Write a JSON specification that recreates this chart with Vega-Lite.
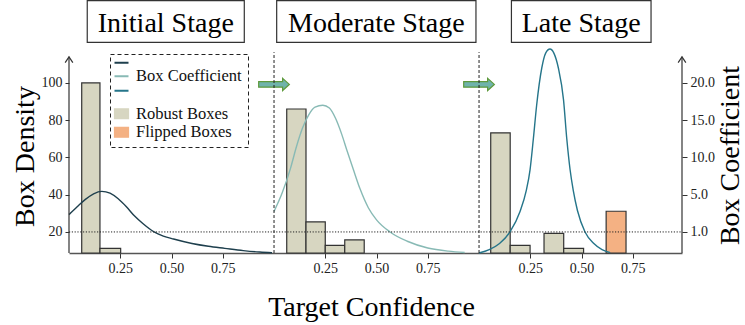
{
  "$schema": "https://vega.github.io/schema/vega-lite/v6.json",
  "width": 613,
  "height": 253,
  "autosize": {"type": "none"},
  "padding": {"left": 69, "top": 0, "right": 63, "bottom": 72},
  "background": "white",
  "config": {"view": {"stroke": null}, "font": "Liberation Serif"},
  "resolve": {"axis": {"x": "independent", "y": "independent"}},
  "datasets": {
    "bars": [
      {"x": 0.062, "x2": 0.151, "h": 100, "series": "Robust Boxes"},
      {"x": 0.151, "x2": 0.252, "h": 11.2, "series": "Robust Boxes"},
      {"x": 1.062, "x2": 1.156, "h": 86, "series": "Robust Boxes"},
      {"x": 1.156, "x2": 1.25, "h": 25.4, "series": "Robust Boxes"},
      {"x": 1.25, "x2": 1.345, "h": 12.8, "series": "Robust Boxes"},
      {"x": 1.345, "x2": 1.44, "h": 15.7, "series": "Robust Boxes"},
      {"x": 2.057, "x2": 2.152, "h": 73.2, "series": "Robust Boxes"},
      {"x": 2.152, "x2": 2.249, "h": 12.8, "series": "Robust Boxes"},
      {"x": 2.317, "x2": 2.413, "h": 19.2, "series": "Robust Boxes"},
      {"x": 2.413, "x2": 2.51, "h": 11.2, "series": "Robust Boxes"},
      {"x": 2.62, "x2": 2.717, "h": 31.1, "series": "Flipped Boxes"}
    ],
    "curves": [
      {"series": "Initial", "x": 0, "y": 29.3},
      {"series": "Initial", "x": 0.04, "y": 33.5},
      {"series": "Initial", "x": 0.08, "y": 37.5},
      {"series": "Initial", "x": 0.12, "y": 40.5},
      {"series": "Initial", "x": 0.16, "y": 41.8},
      {"series": "Initial", "x": 0.2, "y": 40.8},
      {"series": "Initial", "x": 0.24, "y": 37.8},
      {"series": "Initial", "x": 0.28, "y": 33.5},
      {"series": "Initial", "x": 0.32, "y": 28.5},
      {"series": "Initial", "x": 0.36, "y": 24.5},
      {"series": "Initial", "x": 0.415, "y": 20},
      {"series": "Initial", "x": 0.46, "y": 17.8},
      {"series": "Initial", "x": 0.51, "y": 16.2},
      {"series": "Initial", "x": 0.6, "y": 13.8},
      {"series": "Initial", "x": 0.68, "y": 12.3},
      {"series": "Initial", "x": 0.76, "y": 11.2},
      {"series": "Initial", "x": 0.85, "y": 10},
      {"series": "Initial", "x": 0.93, "y": 9.2},
      {"series": "Initial", "x": 0.99, "y": 8.8},
      {"series": "Moderate", "x": 1.0, "y": 31},
      {"series": "Moderate", "x": 1.04, "y": 41},
      {"series": "Moderate", "x": 1.08, "y": 54},
      {"series": "Moderate", "x": 1.11, "y": 66},
      {"series": "Moderate", "x": 1.14, "y": 76},
      {"series": "Moderate", "x": 1.17, "y": 83},
      {"series": "Moderate", "x": 1.2, "y": 87},
      {"series": "Moderate", "x": 1.238, "y": 88},
      {"series": "Moderate", "x": 1.27, "y": 86.5},
      {"series": "Moderate", "x": 1.3, "y": 81},
      {"series": "Moderate", "x": 1.33, "y": 72.5},
      {"series": "Moderate", "x": 1.355, "y": 64},
      {"series": "Moderate", "x": 1.387, "y": 53.5},
      {"series": "Moderate", "x": 1.42, "y": 43},
      {"series": "Moderate", "x": 1.46, "y": 33},
      {"series": "Moderate", "x": 1.5, "y": 26.5},
      {"series": "Moderate", "x": 1.566, "y": 20},
      {"series": "Moderate", "x": 1.65, "y": 15},
      {"series": "Moderate", "x": 1.75, "y": 11.4},
      {"series": "Moderate", "x": 1.85, "y": 9.7},
      {"series": "Moderate", "x": 1.93, "y": 9},
      {"series": "Late", "x": 2.0, "y": 8.7},
      {"series": "Late", "x": 2.05, "y": 10.5},
      {"series": "Late", "x": 2.1, "y": 13.8},
      {"series": "Late", "x": 2.151, "y": 20},
      {"series": "Late", "x": 2.2, "y": 31},
      {"series": "Late", "x": 2.23, "y": 42},
      {"series": "Late", "x": 2.249, "y": 53.5},
      {"series": "Late", "x": 2.265, "y": 70},
      {"series": "Late", "x": 2.281, "y": 88},
      {"series": "Late", "x": 2.306, "y": 108},
      {"series": "Late", "x": 2.325, "y": 116},
      {"series": "Late", "x": 2.346, "y": 118.2},
      {"series": "Late", "x": 2.365, "y": 116},
      {"series": "Late", "x": 2.387, "y": 108},
      {"series": "Late", "x": 2.412, "y": 91},
      {"series": "Late", "x": 2.428, "y": 70},
      {"series": "Late", "x": 2.444, "y": 53.5},
      {"series": "Late", "x": 2.46, "y": 42},
      {"series": "Late", "x": 2.48, "y": 31.5},
      {"series": "Late", "x": 2.517, "y": 20},
      {"series": "Late", "x": 2.56, "y": 13.8},
      {"series": "Late", "x": 2.6, "y": 10.5},
      {"series": "Late", "x": 2.64, "y": 8.9}
    ]
  },
  "layer": [
    {
      "data": {"values": [{}]},
      "mark": {"type": "rect", "fill": "white", "stroke": "#333", "strokeWidth": 1.2},
      "encoding": {
        "x": {"datum": 0.089, "type": "quantitative", "axis": null},
        "x2": {"datum": 0.855},
        "y": {"datum": 121.8, "type": "quantitative", "axis": null},
        "y2": {"datum": 144.2}
      }
    },
    {
      "data": {"values": [{}]},
      "mark": {"type": "rect", "fill": "white", "stroke": "#333", "strokeWidth": 1.2},
      "encoding": {
        "x": {"datum": 1.013, "type": "quantitative", "axis": null},
        "x2": {"datum": 1.985},
        "y": {"datum": 121.8, "type": "quantitative", "axis": null},
        "y2": {"datum": 144.2}
      }
    },
    {
      "data": {"values": [{}]},
      "mark": {"type": "rect", "fill": "white", "stroke": "#333", "strokeWidth": 1.2},
      "encoding": {
        "x": {"datum": 2.158, "type": "quantitative", "axis": null},
        "x2": {"datum": 2.839},
        "y": {"datum": 121.8, "type": "quantitative", "axis": null},
        "y2": {"datum": 144.2}
      }
    },
    {
      "data": {"values": [{}]},
      "mark": {"type": "text", "font": "Liberation Serif", "fontSize": 28, "baseline": "alphabetic", "align": "center", "color": "#000"},
      "encoding": {
        "x": {"datum": 0.472, "type": "quantitative", "axis": null},
        "y": {"datum": 127.5, "type": "quantitative", "axis": null},
        "text": {"value": "Initial Stage"}
      }
    },
    {
      "data": {"values": [{}]},
      "mark": {"type": "text", "font": "Liberation Serif", "fontSize": 28, "baseline": "alphabetic", "align": "center", "color": "#000"},
      "encoding": {
        "x": {"datum": 1.499, "type": "quantitative", "axis": null},
        "y": {"datum": 127.5, "type": "quantitative", "axis": null},
        "text": {"value": "Moderate Stage"}
      }
    },
    {
      "data": {"values": [{}]},
      "mark": {"type": "text", "font": "Liberation Serif", "fontSize": 28, "baseline": "alphabetic", "align": "center", "color": "#000"},
      "encoding": {
        "x": {"datum": 2.498, "type": "quantitative", "axis": null},
        "y": {"datum": 127.5, "type": "quantitative", "axis": null},
        "text": {"value": "Late Stage"}
      }
    },
    {
      "data": {"name": "bars"},
      "mark": {"type": "bar", "stroke": "#333", "strokeWidth": 1.2},
      "encoding": {
        "x": {
          "field": "x", "type": "quantitative",
          "scale": {"domain": [0, 2.99], "nice": false, "zero": false},
          "axis": {
            "values": [0.25, 0.5, 0.75, 1.25, 1.5, 1.75, 2.25, 2.5, 2.75],
            "labelExpr": "format(datum.value % 1, '.2f')",
            "grid": false, "domain": true, "domainColor": "#555", "domainWidth": 1.5,
            "tickSize": 5, "tickColor": "#333", "tickWidth": 1,
            "labelFont": "Liberation Serif", "labelFontSize": 14, "labelColor": "#222", "labelPadding": 3,
            "title": "Target Confidence", "titleFont": "Liberation Serif", "titleFontSize": 28,
            "titleFontWeight": "normal", "titleColor": "#000",
            "titleX": 302, "titleY": 62, "titleBaseline": "alphabetic", "titleAlign": "center"
          }
        },
        "x2": {"field": "x2"},
        "y": {
          "field": "h", "type": "quantitative",
          "scale": {"domain": [8.7, 144.5], "nice": false, "zero": false},
          "axis": {
            "orient": "left", "values": [20, 40, 60, 80, 100], "domain": false, "grid": false,
            "tickSize": 4, "tickColor": "#333", "tickWidth": 1,
            "labelFont": "Liberation Serif", "labelFontSize": 14, "labelColor": "#222", "labelPadding": 3,
            "title": "Box Density", "titleFont": "Liberation Serif", "titleFontSize": 28,
            "titleFontWeight": "normal", "titleColor": "#000",
            "titleAngle": 270, "titleX": -36, "titleY": 156, "titleBaseline": "alphabetic", "titleAlign": "center"
          }
        },
        "y2": {"datum": 8.7},
        "color": {
          "field": "series", "type": "nominal",
          "scale": {
            "domain": ["Initial", "Moderate", "Late", "gap", "Robust Boxes", "Flipped Boxes"],
            "range": ["#1e3f4d", "#88bab5", "#25758a", "rgba(0,0,0,0)", "#d7d6c1", "#f4b183"]
          },
          "legend": {
            "title": null, "orient": "none", "legendX": 41, "legendY": 54, "direction": "vertical",
            "padding": 6, "labelFont": "Liberation Serif", "labelFontSize": 16.5, "labelColor": "#111",
            "labelOffset": 6, "symbolSize": 16, "rowPadding": 0.5,
            "labelExpr": "datum.value == 'Moderate' ? 'Box Coefficient' : (datum.value == 'Robust Boxes' || datum.value == 'Flipped Boxes' ? datum.label : '')",
            "encode": {
              "labels": {"update": {
                "x": {"value": 20},
                "fontSize": {"signal": "datum.value == 'Moderate' || datum.value == 'Robust Boxes' || datum.value == 'Flipped Boxes' ? 16.5 : (datum.value == 'gap' ? 5.5 : 5.5)"}
              }},
              "symbols": {"update": {
                "x": {"value": 5.5},
                "shape": {"signal": "indexof(['Robust Boxes','Flipped Boxes'], datum.value) >= 0 ? 'M-3.5,-2.45L3.5,-2.45L3.5,2.45L-3.5,2.45Z' : 'M-3.5,0L3.5,0'"},
                "size": {"value": 16},
                "fill": {"signal": "indexof(['Robust Boxes','Flipped Boxes'], datum.value) >= 0 ? scale('color', datum.value) : 'transparent'"},
                "stroke": {"signal": "indexof(['Robust Boxes','Flipped Boxes'], datum.value) >= 0 ? '#333' : scale('color', datum.value)"},
                "strokeWidth": {"signal": "indexof(['Robust Boxes','Flipped Boxes'], datum.value) >= 0 ? 1.2 : 2"},
                "opacity": {"value": 1}
              }},
              "legend": {"update": {
                "stroke": {"value": "#222"}, "strokeDash": {"value": [4, 3]}, "strokeWidth": {"value": 1}
              }}
            }
          }
        }
      }
    },
    {
      "data": {"name": "curves"},
      "mark": {"type": "line", "interpolate": "monotone", "strokeWidth": 1.4},
      "encoding": {
        "x": {"field": "x", "type": "quantitative", "scale": {"domain": [0, 2.99], "nice": false, "zero": false}, "axis": null},
        "y": {
          "field": "y", "type": "quantitative",
          "scale": {"domain": [8.7, 144.5], "nice": false, "zero": false},
          "axis": {
            "orient": "right", "values": [20, 40, 60, 80, 100], "domain": false, "grid": false,
            "labelExpr": "datum.value == 20 ? '1.0' : datum.value == 40 ? '5.0' : datum.value == 60 ? '10.0' : datum.value == 80 ? '15.0' : '20.0'",
            "tickSize": 5, "tickColor": "#333", "tickWidth": 1,
            "labelFont": "Liberation Serif", "labelFontSize": 14, "labelColor": "#222", "labelPadding": 3,
            "title": "Box Coefficient", "titleFont": "Liberation Serif", "titleFontSize": 28,
            "titleFontWeight": "normal", "titleColor": "#000",
            "titleAngle": 270, "titleX": 56, "titleY": 155, "titleBaseline": "alphabetic", "titleAlign": "center"
          }
        },
        "color": {
          "field": "series", "type": "nominal",
          "scale": {
            "domain": ["Initial", "Moderate", "Late", "gap", "Robust Boxes", "Flipped Boxes"],
            "range": ["#1e3f4d", "#88bab5", "#25758a", "rgba(0,0,0,0)", "#d7d6c1", "#f4b183"]
          },
          "legend": {
            "title": null, "orient": "none", "legendX": 41, "legendY": 54, "direction": "vertical",
            "padding": 6, "labelFont": "Liberation Serif", "labelFontSize": 16.5, "labelColor": "#111",
            "labelOffset": 6, "symbolSize": 16, "rowPadding": 0.5,
            "labelExpr": "datum.value == 'Moderate' ? 'Box Coefficient' : (datum.value == 'Robust Boxes' || datum.value == 'Flipped Boxes' ? datum.label : '')",
            "encode": {
              "labels": {"update": {
                "x": {"value": 20},
                "fontSize": {"signal": "datum.value == 'Moderate' || datum.value == 'Robust Boxes' || datum.value == 'Flipped Boxes' ? 16.5 : (datum.value == 'gap' ? 5.5 : 5.5)"}
              }},
              "symbols": {"update": {
                "x": {"value": 5.5},
                "shape": {"signal": "indexof(['Robust Boxes','Flipped Boxes'], datum.value) >= 0 ? 'M-3.5,-2.45L3.5,-2.45L3.5,2.45L-3.5,2.45Z' : 'M-3.5,0L3.5,0'"},
                "size": {"value": 16},
                "fill": {"signal": "indexof(['Robust Boxes','Flipped Boxes'], datum.value) >= 0 ? scale('color', datum.value) : 'transparent'"},
                "stroke": {"signal": "indexof(['Robust Boxes','Flipped Boxes'], datum.value) >= 0 ? '#333' : scale('color', datum.value)"},
                "strokeWidth": {"signal": "indexof(['Robust Boxes','Flipped Boxes'], datum.value) >= 0 ? 1.2 : 2"},
                "opacity": {"value": 1}
              }},
              "legend": {"update": {
                "stroke": {"value": "#222"}, "strokeDash": {"value": [4, 3]}, "strokeWidth": {"value": 1}
              }}
            }
          }
        }
      }
    },
    {
      "data": {"values": [{}]},
      "mark": {"type": "rule", "stroke": "#222", "strokeWidth": 1, "strokeDash": [1.2, 1.6]},
      "encoding": {
        "x": {"datum": 0, "type": "quantitative", "axis": null},
        "x2": {"datum": 2.99},
        "y": {"datum": 20, "type": "quantitative", "axis": null}
      }
    },
    {
      "data": {"values": [{}]},
      "mark": {"type": "point", "shape": "M-1,-0.18L0.56,-0.18L0.56,-0.4L1,0L0.56,0.4L0.56,0.18L-1,0.18Z", "size": 942, "filled": true, "fill": "#6fb3ab", "stroke": "#5e9a3c", "strokeWidth": 1.2, "opacity": 1},
      "encoding": {
        "x": {"datum": 1.0, "type": "quantitative", "axis": null},
        "y": {"datum": 99.2, "type": "quantitative", "axis": null}
      }
    },
    {
      "data": {"values": [{}]},
      "mark": {"type": "point", "shape": "M-1,-0.18L0.56,-0.18L0.56,-0.4L1,0L0.56,0.4L0.56,0.18L-1,0.18Z", "size": 942, "filled": true, "fill": "#6fb3ab", "stroke": "#5e9a3c", "strokeWidth": 1.2, "opacity": 1},
      "encoding": {
        "x": {"datum": 2.0, "type": "quantitative", "axis": null},
        "y": {"datum": 99.2, "type": "quantitative", "axis": null}
      }
    },
    {
      "data": {"values": [{}]},
      "mark": {"type": "rule", "stroke": "#222", "strokeWidth": 1, "strokeDash": [3, 2]},
      "encoding": {
        "x": {"datum": 1.0, "type": "quantitative", "axis": null},
        "y": {"datum": 8.7, "type": "quantitative", "axis": null},
        "y2": {"datum": 116.5}
      }
    },
    {
      "data": {"values": [{}]},
      "mark": {"type": "rule", "stroke": "#222", "strokeWidth": 1, "strokeDash": [3, 2]},
      "encoding": {
        "x": {"datum": 2.0, "type": "quantitative", "axis": null},
        "y": {"datum": 8.7, "type": "quantitative", "axis": null},
        "y2": {"datum": 116.5}
      }
    },
    {
      "data": {"values": [{}]},
      "mark": {"type": "rule", "stroke": "#333", "strokeWidth": 1.2},
      "encoding": {
        "x": {"datum": 0, "type": "quantitative", "axis": null},
        "y": {"datum": 8.7, "type": "quantitative", "axis": null},
        "y2": {"datum": 114}
      }
    },
    {
      "data": {"values": [{}]},
      "mark": {"type": "rule", "stroke": "#333", "strokeWidth": 1.2},
      "encoding": {
        "x": {"datum": 2.99, "type": "quantitative", "axis": null},
        "y": {"datum": 8.7, "type": "quantitative", "axis": null},
        "y2": {"datum": 114}
      }
    },
    {
      "data": {"values": [{}]},
      "mark": {"type": "point", "shape": "M-0.6,0.9L0,0L0.6,0.9", "size": 164, "filled": false, "stroke": "#333", "strokeWidth": 1.2, "opacity": 1},
      "encoding": {
        "x": {"datum": 0, "type": "quantitative", "axis": null},
        "y": {"datum": 114, "type": "quantitative", "axis": null}
      }
    },
    {
      "data": {"values": [{}]},
      "mark": {"type": "point", "shape": "M-0.6,0.9L0,0L0.6,0.9", "size": 164, "filled": false, "stroke": "#333", "strokeWidth": 1.2, "opacity": 1},
      "encoding": {
        "x": {"datum": 2.99, "type": "quantitative", "axis": null},
        "y": {"datum": 114, "type": "quantitative", "axis": null}
      }
    }
  ]
}
